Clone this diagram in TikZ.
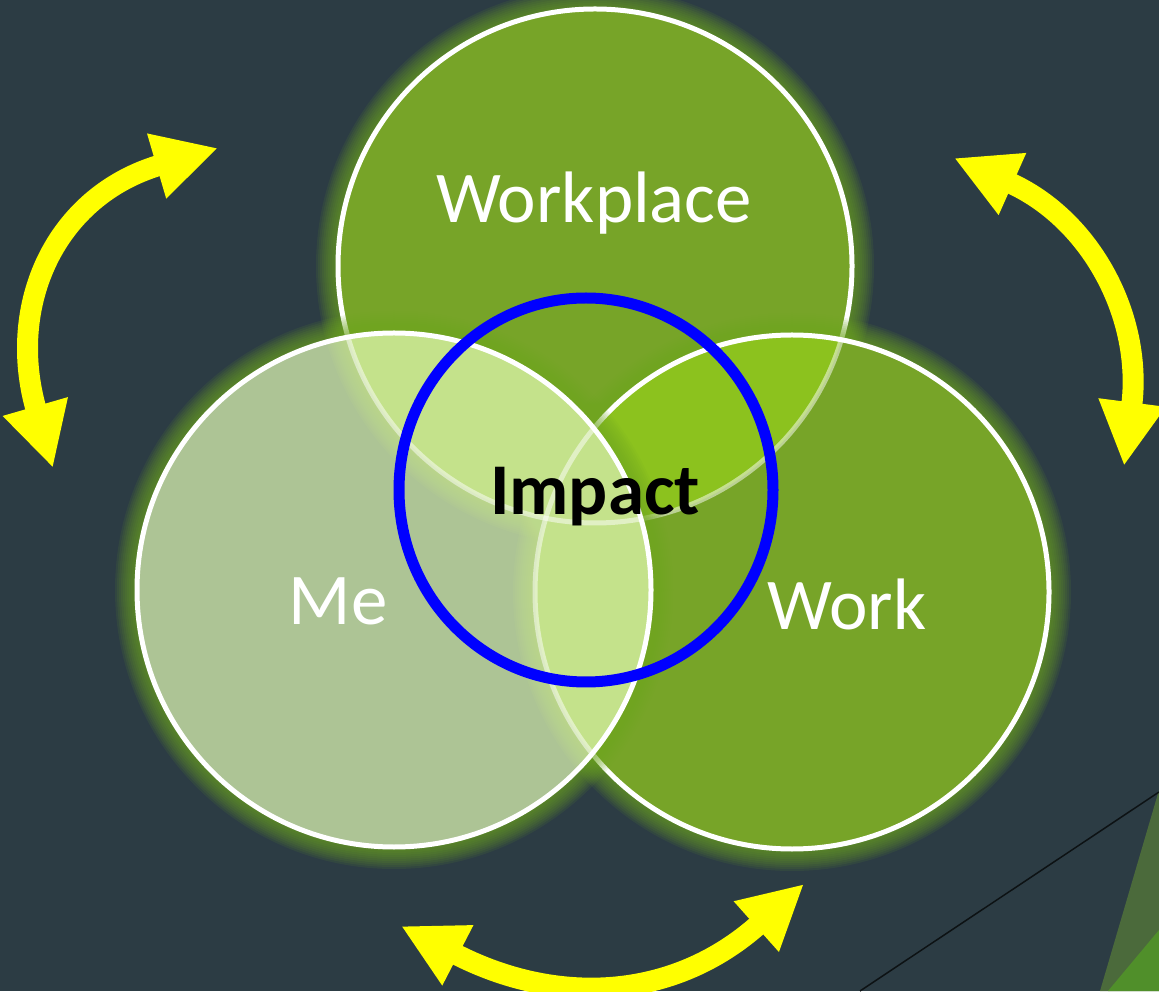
\documentclass[tikz,border=0pt]{standalone}
\usepackage{fontspec}
\setmainfont{Carlito}
\usetikzlibrary{arrows.meta}

\definecolor{slate}{RGB}{44,60,68}
\definecolor{leaf}{RGB}{119,164,40}
\definecolor{sage}{RGB}{173,196,149}
\definecolor{lime}{RGB}{140,194,30}
\definecolor{pale}{RGB}{196,226,139}
\definecolor{halo}{RGB}{112,168,32}
\definecolor{olive}{RGB}{75,106,59}
\definecolor{grass}{RGB}{80,143,42}
\definecolor{sun}{RGB}{255,255,0}

\def\rr{257}

% soft ring round a circle of radius \rr
\newcommand{\glowring}[2]{%
	\foreach \g in {1,...,11}{%
		\pgfmathsetmacro\lw{0.08*\g}%
		\draw[#2, opacity=0.1, line width=\lw cm] #1 circle[radius=\rr];
	}%
}

\tikzset{
	rim/.style={draw=white, line width=0.1cm},
	faintrim/.style={draw=white, draw opacity=0.5, line width=0.1cm},
	word/.style={text=white, anchor=base, font=\fontsize{41.5}{50}\selectfont},
	swing/.style={draw=sun, line width=0.42cm,
		{Triangle[length=1.28cm,width=1.26cm]}-{Triangle[length=1.28cm,width=1.26cm]}},
}

\begin{document}
\begin{tikzpicture}[x=0.02cm,y=0.02cm]

	\fill[slate] (0,0) rectangle (1159,991);
	\useasboundingbox (0,0) rectangle (1159,991);

	% corner trim
	\fill[olive] (1100,0) -- (1159,201) -- (1159,0) -- cycle;
	\fill[grass] (1108,0) -- (1159,61) -- (1159,0) -- cycle;
	\draw[black!70!slate, line width=0.03cm] (860,0) -- (1159,199);

	\coordinate (wp) at (595,725);
	\coordinate (me) at (394,401);
	\coordinate (wk) at (792,399);
	\coordinate (hub) at (586,501);

	% workplace
	\glowring{(wp)}{halo}
	\fill[leaf] (wp) circle[radius=\rr];
	\draw[rim] (wp) circle[radius=\rr];

	% work
	\glowring{(wk)}{halo}
	\fill[leaf] (wk) circle[radius=\rr];
	\begin{scope}
		\clip (wk) circle[radius=\rr];
		\fill[lime] (wp) circle[radius=\rr];
		\draw[faintrim] (wp) circle[radius=\rr];
	\end{scope}
	\draw[rim] (wk) circle[radius=\rr];

	% me
	\glowring{(me)}{halo}
	\fill[sage] (me) circle[radius=\rr];
	\begin{scope}
		\clip (me) circle[radius=\rr];
		\glowring{(wp)}{pale}
		\glowring{(wk)}{pale}
		\fill[pale] (wp) circle[radius=\rr];
		\fill[pale] (wk) circle[radius=\rr];
		\draw[faintrim] (wp) circle[radius=\rr];
		\draw[faintrim] (wk) circle[radius=\rr];
	\end{scope}
	\draw[rim] (me) circle[radius=\rr];

	\draw[blue, line width=0.22cm] (hub) ellipse[x radius=187, y radius=192];

	\node[word] (wpl) at (594,768) {Workplace};
	\node[word] (mel) at (338,366) {Me};
	\node[word] (wkl) at (847,361) {Work};
	\node[word, text=black, font=\fontsize{41.5}{50}\selectfont\bfseries] (imp) at (595,476) {Impact};

	% two-way arrows
	\coordinate (la) at (53,523);
	\coordinate (lb) at (218,843);
	\coordinate (ra) at (954,833);
	\coordinate (rb) at (1124,525);
	\coordinate (ba) at (401,65);
	\coordinate (bb) at (804,107);
	\draw[swing] (la) .. controls (6,686) and (55,795) .. (lb);
	\draw[swing] (ra) .. controls (1091,772) and (1143,674) .. (rb);
	\draw[swing] (ba) .. controls (556,-15) and (673,-10) .. (bb);

\end{tikzpicture}
\end{document}
